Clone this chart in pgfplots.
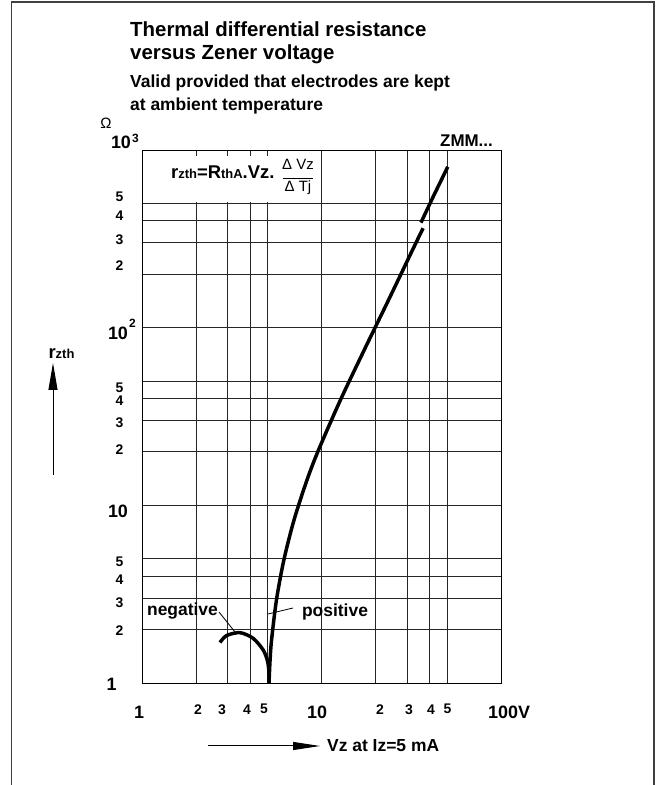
\documentclass[border=0pt]{standalone}
\usepackage{fontspec}
\setmainfont{Liberation Sans}
\usepackage{pgfplots}
\usepackage{pgfplotstable}
\pgfplotsset{compat=1.18}
\usetikzlibrary{arrows.meta}
\newcommand\fs[1]{\fontsize{#1}{#1}\selectfont}
\pgfplotstableread{
V r
5.10 1
5.17 1.35
5.27 1.746
5.61 2.93
6.17 4.92
7.03 8.27
8.30 13.88
9.63 20.5
12.74 39.1
17.29 74.8
23.62 143
32.1 273
36.8 363
}\poslow
\pgfplotstableread{
V r
35.8 390
42.3 557
50.5 804
}\poshigh
\pgfplotstableread{
V r
2.72 1.69
2.96 1.85
3.52 1.92
4.17 1.78
4.74 1.53
5.01 1.32
5.10 1.13
5.10 1
}\negbranch
\begin{document}
\begin{tikzpicture}[
  mn/.style={font=\bfseries\fs{14}, inner sep=0},
  mj/.style={font=\bfseries\fs{18}, inner sep=0}]
\begin{axis}[at={(142bp,102bp)}, anchor=south west, scale only axis,
  width=359bp, height=533bp,
  xmode=log, ymode=log, xmin=1, xmax=100, ymin=1, ymax=1000,
  xtick={1,2,3,4,5,10,20,30,40,50,100},
  ytick={1,2,3,4,5,10,20,30,40,50,100,200,300,400,500,1000},
  xticklabels={}, yticklabels={},
  grid=major, major grid style={black!85, line width=0.8pt},
  axis line style={black, line width=0.9pt},
  major tick length=0pt, minor tick length=0pt]
\addplot[black, line width=3.5pt, smooth, line cap=butt, line join=round] table[x=V,y=r] {\poslow};
\addplot[black, line width=3.5pt, line cap=butt] table[x=V,y=r] {\poshigh};
\addplot[black, line width=3.5pt, smooth, line cap=butt, line join=round] table[x=V,y=r] {\negbranch};
\end{axis}
\begin{scope}[x=1bp,y=1bp]
\path[use as bounding box] (0,0) rectangle (661,785);
\draw[black!75, line width=1.5bp] (11.5,0) -- (11.5,783) -- (654,783) -- (654,0);
% white label box
\fill[white] (143.5,583) rectangle (319,629);
\node[anchor=west, inner sep=0] at (171,613) {\bfseries\fs{18.5}r\fs{13}zth\fs{18.5}=R\fs{13}thA\fs{18.5}.Vz.};
\node[font=\fs{15}, inner sep=0] at (298,621) {Δ Vz};
\draw[line width=0.8bp] (283,607) -- (313,607);
\node[font=\fs{15}, inner sep=0] at (298,597) {Δ Tj};
% titles
\node[anchor=base west, inner sep=0, font=\bfseries\fs{20.5}] at (130,748.3) {Thermal differential resistance};
\node[anchor=base west, inner sep=0, font=\bfseries\fs{20.5}] at (130,725) {versus Zener voltage};
\node[anchor=base west, inner sep=0, font=\bfseries\fs{17.5}] at (130,697) {Valid provided that electrodes are kept};
\node[anchor=base west, inner sep=0, font=\bfseries\fs{17.5}] at (130,674) {at ambient temperature};
\node[font=\fs{15}, inner sep=0] at (106,661.5) {Ω};
\node[font=\bfseries\fs{17}, inner sep=0] at (466.5,644) {ZMM...};
% y labels
\node[mj] at (111.5,101) {1};
\node[mj] at (118,274) {10};
\node[mj] at (118,451.5) {10};
\node[font=\bfseries\fs{12}, inner sep=0] at (132.5,461.5) {2};
\node[mj] at (121,642.5) {10};
\node[font=\bfseries\fs{12}, inner sep=0] at (135.5,646.5) {3};
\foreach \yy/\t in {154/2,182.5/3,205/4,223/5,335/2,362/3,384.5/4,397.5/5,519/2,545/3,569/4,588/5}
  \node[mn] at (119.5,\yy) {\t};
% x labels
\node[mj] at (139,72.5) {1};
\node[mj] at (317,72.5) {10};
\node[mj, anchor=west] at (488,72.5) {100V};
\foreach \xx/\t in {198/2,222/3,247/4,380/2,409/3,431/4}
  \node[mn] at (\xx,75) {\t};
\node[mn] at (264,76.5) {5};
\node[mn] at (447.5,76.5) {5};
% axis titles
\node[inner sep=0] at (61.5,431) {\bfseries\fs{18.5}r\fs{13}zth};
\draw[line width=1bp, -{Triangle[length=27bp,width=9bp]}] (53,310) -- (53,422);
\draw[line width=1bp, -{Triangle[length=27bp,width=8bp]}] (208,39) -- (320,39);
\node[anchor=west, inner sep=0, font=\bfseries\fs{17.5}] at (327,39) {Vz at Iz=5 mA};
% annotations
\node[inner sep=0, font=\bfseries\fs{17.5}] at (182.5,174) {negative};
\node[inner sep=0, font=\bfseries\fs{17.5}] at (335,173) {positive};
\draw[line width=0.8bp] (219,173) -- (235,153);
\draw[line width=0.8bp] (268,171) -- (293,177);
\end{scope}
\end{tikzpicture}
\end{document}
